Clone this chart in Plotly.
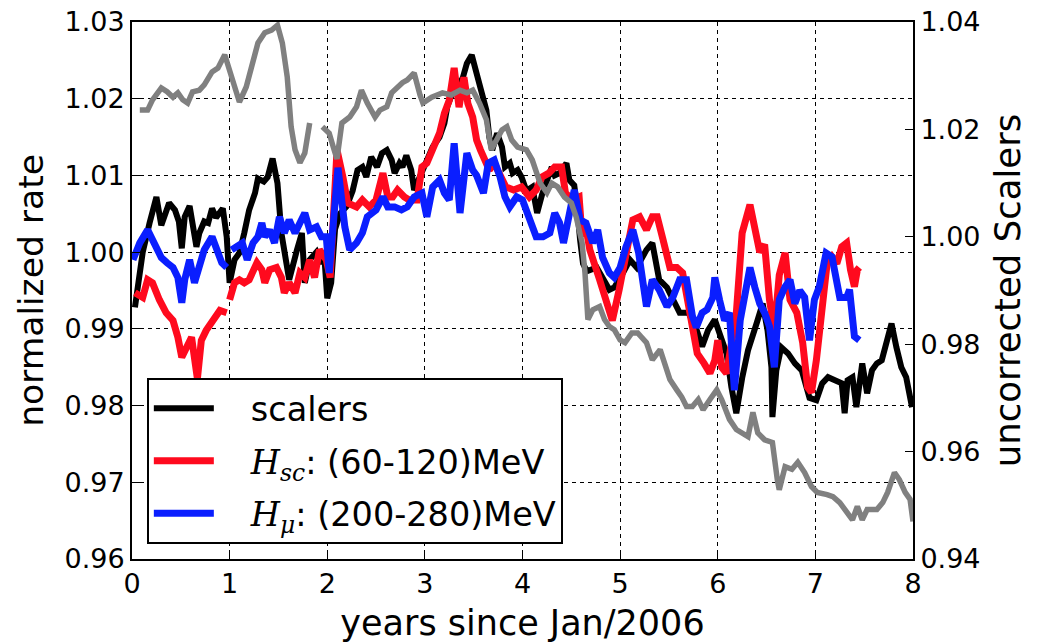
import plotly.graph_objects as go

# ---- scalers (normalized rate, left axis) ----
scalers_t = [0.03, 0.11, 0.18, 0.25, 0.30, 0.33, 0.38, 0.44, 0.48, 0.51, 0.54, 0.59, 0.62, 0.66,
             0.69, 0.74, 0.78, 0.82, 0.86, 0.93, 0.97, 1.00, 1.05, 1.10, 1.15, 1.20, 1.26, 1.29,
             1.35, 1.39, 1.44, 1.49, 1.53, 1.58, 1.61, 1.69, 1.74, 1.77, 1.82, 1.89, 1.94, 1.97,
             2.00, 2.04, 2.08, 2.13, 2.20, 2.26, 2.31, 2.36, 2.40, 2.45, 2.51, 2.56, 2.61, 2.66,
             2.69, 2.74, 2.77, 2.81, 2.86, 2.89, 2.95, 3.00, 3.08, 3.15, 3.20, 3.23, 3.28, 3.34,
             3.39, 3.43, 3.48, 3.53, 3.58, 3.63, 3.66, 3.69, 3.74, 3.79, 3.82, 3.87, 3.90, 3.95,
             3.99, 4.04, 4.10, 4.15, 4.20, 4.26, 4.30, 4.33, 4.38, 4.45, 4.48, 4.53, 4.56, 4.59,
             4.62, 4.66, 4.76, 4.89, 4.94, 5.03, 5.10, 5.17, 5.27, 5.33, 5.40, 5.48, 5.54, 5.61,
             5.70, 5.78, 5.84, 5.90, 5.97, 6.02, 6.09, 6.14, 6.19, 6.25, 6.31, 6.40, 6.46, 6.51,
             6.55, 6.56, 6.60, 6.65, 6.72, 6.79, 6.86, 6.94, 7.01, 7.07, 7.13, 7.20, 7.27, 7.30,
             7.33, 7.38, 7.42, 7.48, 7.53, 7.58, 7.63, 7.68, 7.73, 7.78, 7.83, 7.88, 7.93, 7.99]
scalers_v = [0.9928, 1.0000, 1.0038, 1.0072, 1.0035, 1.0046, 1.0064, 1.0055, 1.0040, 1.0005, 1.0046,
             1.0060, 1.0033, 1.0007, 1.0025, 1.0040, 1.0038, 1.0057, 1.0045, 1.0057, 1.0020, 0.9960,
             0.9990, 0.9999, 1.0025, 1.0055, 1.0077, 1.0096, 1.0092, 1.0098, 1.0122, 1.0090, 1.0025,
             0.9990, 0.9964, 1.0003, 1.0025, 0.9960, 0.9990, 1.0000, 0.9985, 0.9995, 0.9940, 0.9960,
             1.0030, 1.0050, 1.0060, 1.0080, 1.0107, 1.0111, 1.0098, 1.0124, 1.0111, 1.0129, 1.0133,
             1.0120, 1.0103, 1.0116, 1.0111, 1.0126, 1.0107, 1.0081, 1.0098, 1.0111, 1.0137, 1.0150,
             1.0168, 1.0190, 1.0207, 1.0215, 1.0228, 1.0246, 1.0257, 1.0233, 1.0211, 1.0185, 1.0150,
             1.0133, 1.0155, 1.0137, 1.0111, 1.0116, 1.0103, 1.0107, 1.0098, 1.0080, 1.0085, 1.0051,
             1.0075, 1.0098, 1.0111, 1.0100, 1.0103, 1.0116, 1.0094, 1.0087, 1.0059, 1.0016, 0.9985,
             0.9975, 0.9980, 0.9951, 0.9954, 0.9973, 0.9990, 0.9980, 1.0003, 1.0012, 0.9964, 0.9954,
             0.9938, 0.9921, 0.9921, 0.9900, 0.9877, 0.9898, 0.9912, 0.9895, 0.9868, 0.9824, 0.9790,
             0.9836, 0.9872, 0.9908, 0.9933, 0.9898, 0.9850, 0.9785, 0.9846, 0.9876, 0.9868, 0.9855,
             0.9846, 0.9810, 0.9807, 0.9829, 0.9837, 0.9833, 0.9829, 0.9790, 0.9833, 0.9837, 0.9798,
             0.9855, 0.9816, 0.9846, 0.9855, 0.9859, 0.9885, 0.9907, 0.9876, 0.9850, 0.9837, 0.9798]

# ---- H_sc (60-120) MeV, left axis; None marks a missing month ----
hsc_t = [0.03, 0.11, 0.16, 0.21, 0.28, 0.35, 0.42, 0.47, 0.51, 0.56, 0.61, 0.67, 0.71, 0.76, 0.83,
         0.90, 0.97, 0.985, 1.00, 1.05, 1.10, 1.15, 1.20, 1.28, 1.33, 1.36, 1.41, 1.48, 1.53, 1.56,
         1.61, 1.67, 1.72, 1.77, 1.82, 1.87, 1.92, 1.99, 2.03, 2.10, 2.16, 2.21, 2.30, 2.36, 2.43,
         2.50, 2.57, 2.62, 2.67, 2.72, 2.79, 2.84, 2.92, 2.97, 3.02, 3.08, 3.15, 3.20, 3.25, 3.30,
         3.35, 3.40, 3.44, 3.49, 3.53, 3.57, 3.61, 3.66, 3.71, 3.77, 3.83, 3.91, 3.99, 4.07, 4.14,
         4.20, 4.27, 4.33, 4.40, 4.44, 4.51, 4.58, 4.61, 4.64, 4.69, 4.79, 4.86, 4.92, 4.99, 5.06,
         5.13, 5.20, 5.27, 5.33, 5.38, 5.44, 5.51, 5.58, 5.64, 5.69, 5.74, 5.79, 5.86, 5.92, 5.97,
         6.00, 6.04, 6.09, 6.19, 6.25, 6.33, 6.36, 6.43, 6.48, 6.53, 6.58, 6.63, 6.69, 6.74, 6.81,
         6.87, 6.92, 6.96, 7.01, 7.07, 7.12, 7.17, 7.22, 7.27, 7.32, 7.36, 7.40, 7.43, 7.45]
hsc_v = [0.9947, 0.9941, 0.9964, 0.9960, 0.9938, 0.9921, 0.9911, 0.9889, 0.9863, 0.9876, 0.9889,
         0.9835, 0.9885, 0.9898, 0.9911, 0.9924, 0.9921, None, 0.9938, 0.9960, 0.9964, 0.9960,
         0.9964, 0.9986, 0.9977, 0.9960, 0.9977, 0.9980, 0.9967, 0.9947, 0.9960, 0.9947, 0.9973,
         0.9967, 0.9990, 0.9967, 1.0003, 0.9990, 0.9967, 1.0133, 1.0098, 1.0064, 1.0059, 1.0068,
         1.0059, 1.0068, 1.0103, 1.0072, 1.0072, 1.0081, 1.0072, 1.0068, 1.0068, 1.0111, 1.0116,
         1.0137, 1.0155, 1.0181, 1.0198, 1.0240, 1.0189, 1.0228, 1.0194, 1.0176, 1.0146, 1.0133,
         1.0120, 1.0107, 1.0116, 1.0100, 1.0085, 1.0081, 1.0085, 1.0072, 1.0081, 1.0098, 1.0103,
         1.0111, 1.0111, 1.0077, 1.0068, 1.0072, 1.0020, 1.0038, 1.0003, 0.9964, 0.9938, 0.9911,
         0.9951, 1.0003, 1.0042, 1.0046, 1.0029, 1.0046, 1.0046, 1.0016, 0.9980, 0.9980, 0.9973,
         0.9938, 0.9902, 0.9868, 0.9855, 0.9842, 0.9859, 0.9885, 0.9850, 0.9842, 0.9920, 1.0025,
         1.0062, 1.0040, 1.0000, 1.0010, 0.9938, 0.9898, 0.9970, 0.9999, 0.9938, 0.9921, 0.9882,
         0.9824, 0.9817, 0.9859, 0.9933, 0.9985, 0.9994, 0.9985, 1.0007, 1.0012, 0.9977, 0.9955,
         0.9977, 0.9980]

# ---- H_mu (200-280) MeV, left axis ----
hmu_t = [0.01, 0.08, 0.16, 0.23, 0.30, 0.36, 0.42, 0.47, 0.51, 0.54, 0.59, 0.64, 0.69, 0.74, 0.82,
         0.87, 0.92, 0.97, 0.995, 1.02, 1.07, 1.13, 1.18, 1.24, 1.29, 1.33, 1.36, 1.41, 1.46, 1.51,
         1.56, 1.61, 1.67, 1.72, 1.77, 1.82, 1.89, 1.94, 1.99, 2.02, 2.11, 2.18, 2.23, 2.30, 2.36,
         2.41, 2.50, 2.57, 2.62, 2.69, 2.76, 2.82, 2.89, 2.97, 3.02, 3.08, 3.15, 3.20, 3.25, 3.30,
         3.36, 3.43, 3.49, 3.53, 3.60, 3.65, 3.71, 3.77, 3.82, 3.87, 3.94, 4.00, 4.07, 4.14, 4.21,
         4.28, 4.33, 4.38, 4.42, 4.48, 4.53, 4.59, 4.65, 4.72, 4.77, 4.82, 4.89, 4.94, 5.00, 5.06,
         5.13, 5.19, 5.27, 5.33, 5.40, 5.48, 5.54, 5.61, 5.68, 5.74, 5.78, 5.84, 5.89, 5.95, 5.97,
         6.02, 6.07, 6.12, 6.17, 6.23, 6.28, 6.33, 6.38, 6.43, 6.48, 6.53, 6.58, 6.63, 6.69, 6.74,
         6.79, 6.84, 6.89, 6.94, 6.99, 7.04, 7.11, 7.17, 7.25, 7.32, 7.35, 7.40, 7.45]
hmu_v = [0.9990, 1.0012, 1.0029, 1.0012, 0.9993, 0.9986, 0.9980, 0.9967, 0.9934, 0.9964, 0.9990,
         0.9960, 0.9980, 1.0003, 1.0020, 1.0003, 0.9986, 0.9980, None, 1.0003, 1.0007, 1.0012,
         0.9990, 1.0012, 1.0020, 1.0038, 1.0020, 1.0029, 1.0012, 1.0046, 1.0025, 1.0042, 1.0025,
         1.0038, 1.0051, 1.0029, 1.0033, 1.0020, 1.0020, 0.9973, 1.0110, 1.0033, 1.0003, 1.0012,
         1.0025, 1.0046, 1.0055, 1.0072, 1.0059, 1.0059, 1.0055, 1.0059, 1.0072, 1.0077, 1.0046,
         1.0085, 1.0094, 1.0077, 1.0068, 1.0142, 1.0051, 1.0129, 1.0107, 1.0100, 1.0077, 1.0116,
         1.0120, 1.0098, 1.0072, 1.0059, 1.0072, 1.0068, 1.0046, 1.0020, 1.0020, 1.0025, 1.0051,
         1.0038, 1.0012, 1.0046, 1.0081, 1.0042, 1.0038, 1.0012, 1.0029, 0.9993, 0.9973, 0.9967,
         0.9980, 1.0007, 1.0029, 0.9999, 0.9929, 0.9964, 0.9951, 0.9929, 0.9941, 0.9964, 0.9964,
         0.9917, 0.9902, 0.9921, 0.9925, 0.9941, 0.9967, 0.9937, 0.9911, 0.9921, 0.9820, 0.9911,
         0.9941, 0.9980, 0.9954, 0.9933, 0.9921, 0.9903, 0.9850, 0.9938, 0.9955, 0.9964, 0.9933,
         0.9950, 0.9941, 0.9885, 0.9938, 0.9955, 0.9999, 0.9994, 0.9941, 0.9941, 0.9951, 0.9890,
         0.9885]

# ---- uncorrected scalers (right axis) ----
raw_t = [0.08, 0.16, 0.21, 0.30, 0.36, 0.42, 0.47, 0.52, 0.57, 0.62, 0.69, 0.74, 0.82, 0.88, 0.95,
         1.02, 1.10, 1.17, 1.24, 1.29, 1.36, 1.43, 1.49, 1.54, 1.59, 1.63, 1.67, 1.72, 1.77, 1.82,
         1.88, 1.95, 2.02, 2.07, 2.10, 2.15, 2.23, 2.30, 2.35, 2.41, 2.49, 2.54, 2.61, 2.66, 2.72,
         2.77, 2.82, 2.89, 2.95, 2.98, 3.07, 3.18, 3.27, 3.36, 3.43, 3.49, 3.56, 3.63, 3.68, 3.73,
         3.79, 3.84, 3.89, 3.95, 4.04, 4.10, 4.18, 4.25, 4.30, 4.36, 4.43, 4.50, 4.55, 4.61, 4.64,
         4.67, 4.72, 4.79, 4.84, 4.89, 4.94, 5.00, 5.05, 5.12, 5.18, 5.27, 5.33, 5.41, 5.46, 5.51,
         5.58, 5.63, 5.68, 5.74, 5.80, 5.85, 5.92, 5.99, 6.04, 6.12, 6.19, 6.25, 6.31, 6.36, 6.41,
         6.48, 6.56, 6.61, 6.63, 6.69, 6.76, 6.82, 6.89, 6.96, 7.02, 7.12, 7.18, 7.25, 7.32, 7.38,
         7.43, 7.48, 7.53, 7.63, 7.69, 7.74, 7.81, 7.86, 7.92, 7.97, 8.00]
raw_v = [1.0236, 1.0236, 1.0255, 1.0277, 1.0270, 1.0260, 1.0268, 1.0255, 1.0249, 1.0270, 1.0273,
         1.0283, 1.0307, 1.0314, 1.0339, 1.0298, 1.0251, 1.0279, 1.0324, 1.0361, 1.0380, 1.0385,
         1.0394, 1.0361, 1.0298, 1.0205, 1.0162, 1.0138, 1.0156, 1.0212, None, 1.0205, 1.0193,
         1.0162, 1.0145, 1.0212, 1.0223, 1.0242, 1.0273, 1.0249, 1.0223, 1.0236, 1.0242, 1.0268,
         1.0279, 1.0287, 1.0292, 1.0305, 1.0264, 1.0249, 1.0260, 1.0268, 1.0264, 1.0273, 1.0268,
         1.0273, 1.0249, 1.0218, 1.0162, 1.0180, 1.0199, 1.0205, 1.0180, 1.0167, 1.0162, 1.0143,
         1.0100, 1.0082, 1.0100, 1.0093, 1.0074, 1.0063, 1.0037, 0.9989, 0.9933, 0.9846, 0.9864,
         0.9870, 0.9846, 0.9833, 0.9827, 0.9808, 0.9803, 0.9821, 0.9821, 0.9803, 0.9771, 0.9790,
         0.9758, 0.9734, 0.9715, 0.9702, 0.9684, 0.9684, 0.9697, 0.9678, 0.9697, 0.9715, 0.9697,
         0.9660, 0.9641, 0.9635, 0.9628, 0.9673, 0.9635, 0.9622, 0.9617, 0.9548, 0.9529, 0.9572,
         0.9567, 0.9580, 0.9561, 0.9535, 0.9524, 0.9520, 0.9516, 0.9505, 0.9487, 0.9473, 0.9498,
         0.9473, 0.9492, 0.9492, 0.9505, 0.9524, 0.9561, 0.9548, 0.9524, 0.9511, 0.9470]

x_ticks = [0, 1, 2, 3, 4, 5, 6, 7, 8]
left_ticks = [0.96, 0.97, 0.98, 0.99, 1.00, 1.01, 1.02, 1.03]
right_ticks = [0.94, 0.96, 0.98, 1.00, 1.02, 1.04]

FONT = "DejaVu Sans, Bitstream Vera Sans, sans-serif"
MATH = "font-family:DejaVu Serif"
PAD = "\u00a0\u00a0\u00a0"  # gap between legend sample line and its label

fig = go.Figure()

fig.add_trace(go.Scatter(x=scalers_t, y=scalers_v, mode="lines", name=PAD + "scalers",
                         legendgroup="a", line=dict(color="#000000", width=6), yaxis="y"))
fig.add_trace(go.Scatter(x=hsc_t, y=hsc_v, mode="lines", connectgaps=False, legendgroup="b",
                         name=PAD + f"<span style='{MATH}'><i>H</i><sub><i>sc</i></sub></span>: (60-120)MeV",
                         line=dict(color="#ff0a1e", width=7), yaxis="y"))
fig.add_trace(go.Scatter(x=hmu_t, y=hmu_v, mode="lines", connectgaps=False, legendgroup="c",
                         name=PAD + f"<span style='{MATH}'><i>H</i><sub><i>μ</i></sub></span>: (200-280)MeV",
                         line=dict(color="#0a1eff", width=7), yaxis="y"))
fig.add_trace(go.Scatter(x=raw_t, y=raw_v, mode="lines", connectgaps=False,
                         name="uncorrected", showlegend=False,
                         line=dict(color="#808080", width=5.5), yaxis="y2"))

grid = dict(showgrid=True, gridcolor="#000000", gridwidth=1, griddash="4px,4px")
frame = dict(showline=True, linecolor="#000000", linewidth=2, automargin=False,
             ticks="inside", ticklen=8, tickwidth=1, tickcolor="#000000",
             tickfont=dict(family=FONT, size=27, color="#000000"), zeroline=False)

fig.update_layout(
    width=1043, height=643,
    margin=dict(l=132, r=130, t=22, b=84),
    paper_bgcolor="white", plot_bgcolor="white",
    font=dict(family=FONT, color="#000000"),
    xaxis=dict(range=[0, 8], tickvals=x_ticks, ticktext=[str(v) for v in x_ticks],
               title=dict(text="years since Jan/2006", font=dict(family=FONT, size=35), standoff=14),
               mirror=True, **grid, **frame),
    yaxis=dict(range=[0.96, 1.03], tickvals=left_ticks, tickformat=".2f",
               title=dict(text="normalized rate", font=dict(family=FONT, size=34.5), standoff=10),
               **grid, **frame),
    yaxis2=dict(range=[0.94, 1.04], tickvals=right_ticks, tickformat=".2f",
                overlaying="y", side="right", showgrid=False,
                title=dict(text="uncorrected Scalers", font=dict(family=FONT, size=35.5), standoff=16),
                **frame),
    legend=dict(x=0.019, y=0.028, xanchor="left", yanchor="bottom",
                bgcolor="white", bordercolor="#000000", borderwidth=2,
                font=dict(family=FONT, size=33.5, color="#000000"),
                itemwidth=60, tracegroupgap=6),
    showlegend=True,
)

fig.write_html("out.html")
